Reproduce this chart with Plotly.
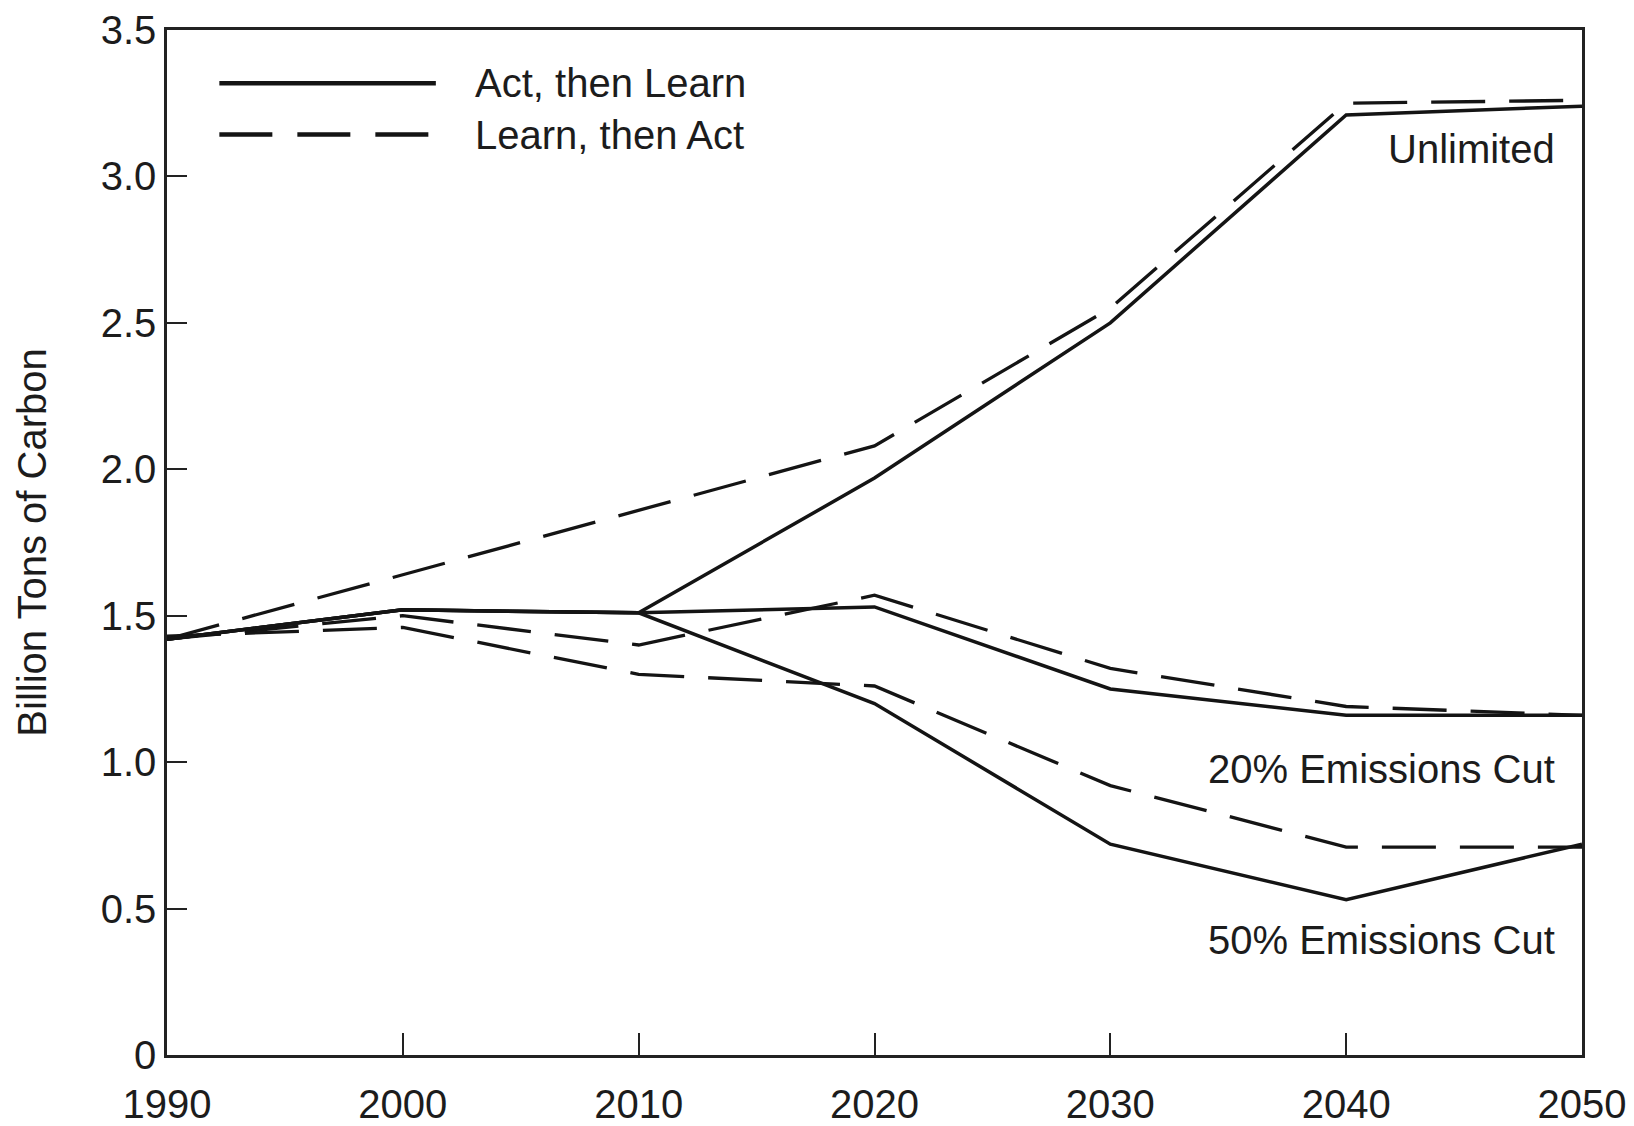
import plotly.graph_objects as go

years = [1990, 2000, 2010, 2020, 2030, 2040, 2050]

act_unlimited = [1.42, 1.52, 1.51, 1.97, 2.50, 3.21, 3.24]
act_20 = [1.42, 1.52, 1.51, 1.53, 1.25, 1.16, 1.16]
act_50 = [1.42, 1.52, 1.51, 1.20, 0.72, 0.53, 0.72]

learn_unlimited = [1.42, 1.64, 1.86, 2.08, 2.55, 3.25, 3.26]
learn_20 = [1.42, 1.50, 1.40, 1.57, 1.32, 1.19, 1.16]
learn_50 = [1.43, 1.46, 1.30, 1.26, 0.92, 0.71, 0.71]

y_ticks = [0, 0.5, 1.0, 1.5, 2.0, 2.5, 3.0, 3.5]
y_tick_labels = ["0", "0.5", "1.0", "1.5", "2.0", "2.5", "3.0", "3.5"]
x_ticks = [1990, 2000, 2010, 2020, 2030, 2040, 2050]

legend_names = ["Act, then Learn", "Learn, then Act"]
scenario_labels = ["Unlimited", "20% Emissions Cut", "50% Emissions Cut"]

FONT = "Liberation Sans, Arial, Helvetica, sans-serif"
TXT = "#1c1c1c"
LINE = "#141414"
DASH = "54px,24px"
FS = 40

fig = go.Figure()

for ys in [learn_unlimited, learn_20, learn_50]:
    fig.add_trace(go.Scatter(x=years, y=ys, mode="lines",
                             line=dict(color=LINE, width=3.3, dash=DASH),
                             showlegend=False, hoverinfo="skip"))
for ys in [act_unlimited, act_20, act_50]:
    fig.add_trace(go.Scatter(x=years, y=ys, mode="lines",
                             line=dict(color=LINE, width=3.5),
                             showlegend=False, hoverinfo="skip"))

# custom legend (long sample lines as in the reference)
fig.add_shape(type="line", xref="paper", yref="paper", x0=0.037, x1=0.19, y0=0.948, y1=0.948,
              line=dict(color=LINE, width=4.5))
fig.add_shape(type="line", xref="paper", yref="paper", x0=0.037, x1=0.19, y0=0.898, y1=0.898,
              line=dict(color=LINE, width=4.5, dash="53px,25px"))
fig.add_annotation(xref="paper", yref="paper", x=0.216, y=0.948, text=legend_names[0],
                   showarrow=False, xanchor="left", yanchor="middle",
                   font=dict(family=FONT, size=FS, color=TXT))
fig.add_annotation(xref="paper", yref="paper", x=0.216, y=0.898, text=legend_names[1],
                   showarrow=False, xanchor="left", yanchor="middle",
                   font=dict(family=FONT, size=FS, color=TXT))

for txt, yp in zip(scenario_labels, [0.884, 0.279, 0.112]):
    fig.add_annotation(xref="paper", yref="paper", x=0.982, y=yp, text=txt,
                       showarrow=False, xanchor="right", yanchor="middle",
                       font=dict(family=FONT, size=FS, color=TXT))

fig.update_layout(
    width=1626, height=1118,
    margin=dict(l=159, r=52, t=22, b=71, autoexpand=False),
    paper_bgcolor="white", plot_bgcolor="white",
    font=dict(family=FONT, size=FS, color=TXT),
    showlegend=False,
)
fig.update_xaxes(range=[1990, 2050], tickvals=x_ticks, ticks="inside", ticklen=22,
                 tickwidth=2, tickcolor="#222", showline=True, linecolor="#222", linewidth=2.5,
                 mirror=True, showgrid=False, zeroline=False, automargin=False,
                 ticklabeloverflow="allow",
                 tickfont=dict(family=FONT, size=FS, color=TXT), ticklabelstandoff=12)
fig.update_yaxes(range=[0, 3.5], tickvals=y_ticks, ticktext=y_tick_labels, ticks="inside",
                 ticklen=20, tickwidth=2, tickcolor="#222", showline=True, linecolor="#222",
                 linewidth=2.5, mirror=True, showgrid=False, zeroline=False, automargin=False,
                 ticklabeloverflow="allow",
                 tickfont=dict(family=FONT, size=FS, color=TXT),
                 title=dict(text="Billion Tons of Carbon", standoff=42,
                            font=dict(family=FONT, size=FS, color=TXT)))

fig.write_html("out.html")
